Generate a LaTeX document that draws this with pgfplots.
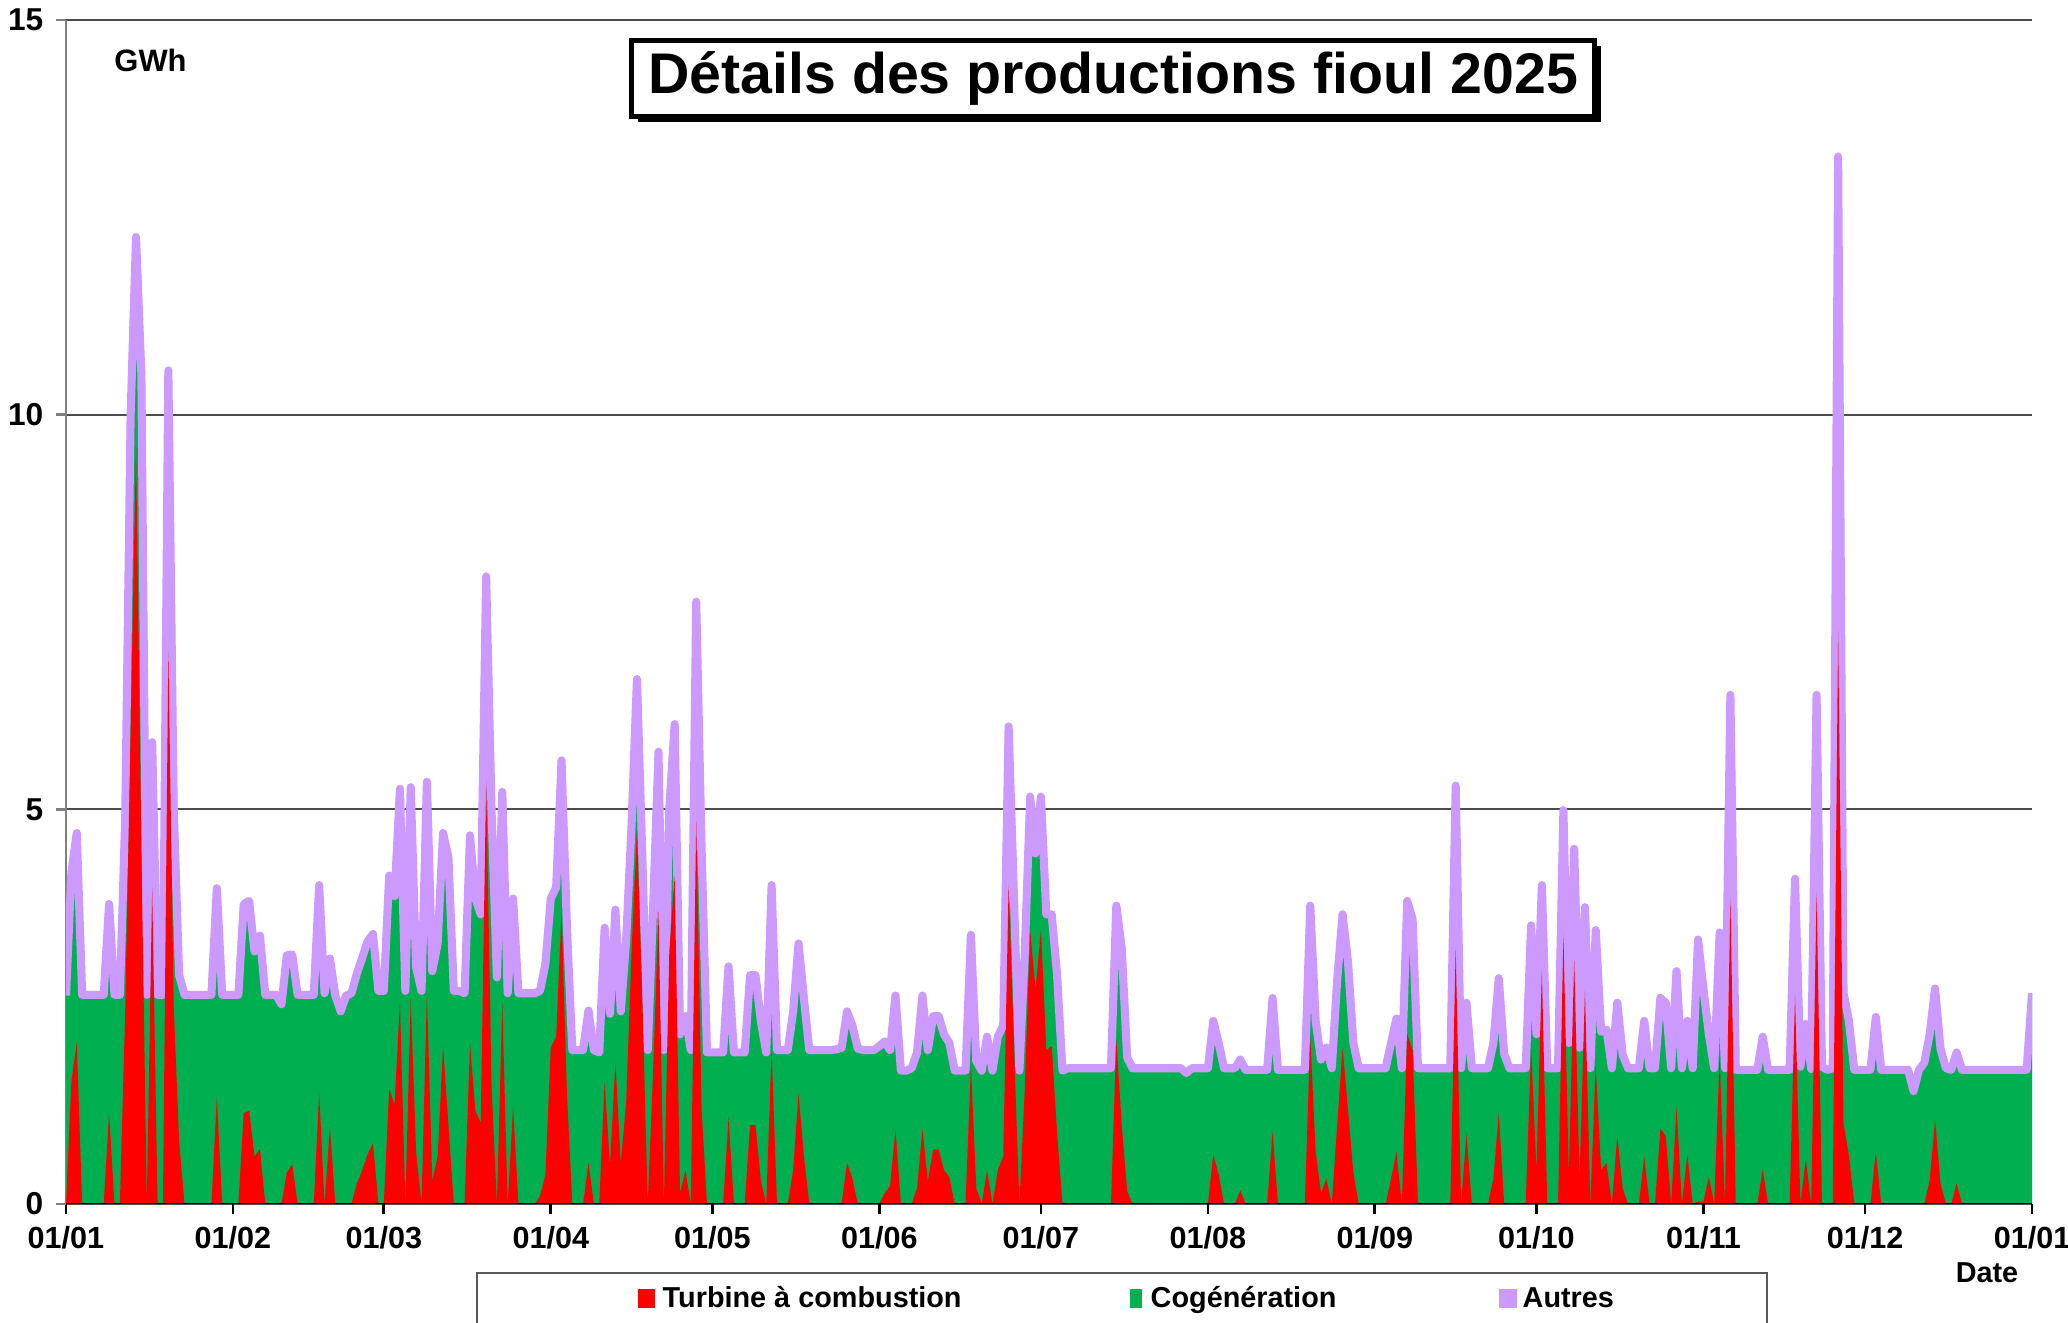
\documentclass[border=0pt]{standalone}
\usepackage{fontspec}
\setmainfont{Liberation Sans}
\usepackage{pgfplots}
\pgfplotsset{compat=1.18}
\usepackage{pgfplotstable}
\usetikzlibrary{shadows}
\definecolor{tacred}{HTML}{FF0000}
\definecolor{cogreen}{HTML}{00B050}
\definecolor{autpurple}{HTML}{CC99FF}

% d = day of 2025 (0 = 01/01), T = total (top of Autres), G = top of Cogeneration, R = Turbine a combustion
\pgfplotstableread[row sep=\\]{
d T G R\\
0 2.64 2.64 0\\ 1 4.2 4.0 1.55\\ 2 4.7 4.4 2.04\\ 3 2.65 2.65 0\\ 4 2.65 2.65 0\\ 5 2.65 2.65 0\\ 6 2.65 2.65 0\\ 7 2.65 2.65 0\\
8 3.8 3.6 1.15\\ 9 2.65 2.65 0\\ 10 2.65 2.65 0\\ 11 4.9 4.6 2.46\\ 12 10.0 9.2 6.0\\ 13 12.25 11.25 9.6\\ 14 10.5 9.5 4.5\\
15 2.65 2.65 0\\ 16 5.85 5.15 4.0\\ 17 2.65 2.65 0\\ 18 2.65 2.65 0\\ 19 10.56 7.96 7.0\\ 20 5.0 4.2 2.5\\ 21 2.9 2.9 0.8\\
22 2.65 2.65 0\\ 23 2.65 2.65 0\\ 24 2.65 2.65 0\\ 25 2.65 2.65 0\\ 26 2.65 2.65 0\\ 27 2.65 2.65 0\\ 28 4.0 3.8 1.35\\
29 2.65 2.65 0\\ 30 2.65 2.65 0\\ 31 2.65 2.65 0\\ 32 2.65 2.65 0\\ 33 3.8 3.8 1.15\\ 34 3.84 3.84 1.18\\ 35 3.2 3.2 0.6\\
36 3.4 3.4 0.7\\ 37 2.65 2.65 0\\ 38 2.65 2.65 0\\ 39 2.65 2.65 0\\ 40 2.53 2.53 0\\ 41 3.15 3.15 0.4\\ 42 3.16 3.16 0.5\\
43 2.65 2.65 0\\ 44 2.65 2.65 0\\ 45 2.65 2.65 0\\ 46 2.65 2.65 0\\ 47 4.04 3.84 1.4\\ 48 2.67 2.67 0\\ 49 3.11 3.11 0.97\\
50 2.64 2.64 0\\ 51 2.44 2.44 0\\ 52 2.64 2.64 0\\ 53 2.67 2.67 0\\ 54 2.92 2.92 0.26\\ 55 3.12 3.12 0.43\\ 56 3.33 3.33 0.63\\
57 3.42 3.42 0.77\\ 58 2.7 2.7 0\\ 59 2.7 2.7 0\\ 60 4.16 4.16 1.46\\ 61 3.9 3.9 1.26\\ 62 5.26 4.26 2.55\\ 63 2.7 2.7 0\\
64 5.28 4.28 2.6\\ 65 3.0 3.0 0.66\\ 66 2.7 2.7 0\\ 67 5.35 4.35 2.67\\ 68 2.95 2.95 0.3\\ 69 3.3 3.3 0.6\\ 70 4.7 4.4 2.0\\
71 4.39 4.39 1.0\\ 72 2.7 2.7 0\\ 73 2.7 2.7 0\\ 74 2.67 2.67 0\\ 75 4.67 4.37 2.04\\ 76 3.87 3.87 1.18\\ 77 3.67 3.67 1.03\\
78 7.95 6.45 5.36\\ 79 5.0 4.5 1.5\\ 80 2.87 2.87 0\\ 81 5.22 4.42 2.55\\ 82 2.67 2.67 0\\ 83 3.87 3.87 1.23\\ 84 2.67 2.67 0\\
85 2.67 2.67 0\\ 86 2.67 2.67 0\\ 87 2.67 2.67 0\\ 88 2.7 2.7 0.1\\ 89 3.04 3.04 0.37\\ 90 3.87 3.87 1.98\\ 91 4.01 4.01 2.12\\
92 5.62 4.62 3.7\\ 93 3.5 3.5 1.4\\ 94 1.95 1.95 0\\ 95 1.95 1.95 0\\ 96 1.95 1.95 0\\ 97 2.45 2.45 0.52\\ 98 1.95 1.95 0\\
99 1.92 1.92 0\\ 100 3.5 3.5 1.55\\ 101 2.41 2.41 0.49\\ 102 3.73 3.73 1.8\\ 103 2.44 2.44 0.52\\ 104 3.35 3.35 1.29\\
105 4.8 4.8 3.2\\ 106 6.65 5.55 4.73\\ 107 4.4 4.4 2.6\\ 108 1.95 1.95 0\\ 109 3.76 3.76 1.69\\ 110 5.73 4.33 3.7\\
111 1.95 1.95 0\\ 112 5.0 4.5 3.18\\ 113 6.08 5.18 4.16\\ 114 2.15 2.15 0.14\\ 115 2.38 2.38 0.43\\ 116 1.95 1.95 0\\
117 7.63 4.93 4.85\\ 118 4.5 3.7 1.2\\ 119 1.92 1.92 0\\ 120 1.92 1.92 0\\ 121 1.92 1.92 0\\ 122 1.92 1.92 0\\
123 3.01 3.01 1.09\\ 124 1.92 1.92 0\\ 125 1.92 1.92 0\\ 126 1.92 1.92 0\\ 127 2.9 2.9 1.0\\ 128 2.9 2.9 1.0\\
129 2.32 2.32 0.3\\ 130 1.92 1.92 0\\ 131 4.04 3.24 1.95\\ 132 1.95 1.95 0\\ 133 1.95 1.95 0\\ 134 1.95 1.95 0\\
135 2.44 2.44 0.43\\ 136 3.3 3.3 1.4\\ 137 2.6 2.6 0.6\\ 138 1.95 1.95 0\\ 139 1.95 1.95 0\\ 140 1.95 1.95 0\\
141 1.95 1.95 0\\ 142 1.95 1.95 0\\ 143 1.96 1.96 0\\ 144 1.98 1.98 0\\ 145 2.44 2.44 0.52\\ 146 2.26 2.26 0.32\\
147 1.97 1.97 0\\ 148 1.95 1.95 0\\ 149 1.95 1.95 0\\ 150 1.95 1.95 0\\ 151 2.0 2.0 0\\ 152 2.06 2.06 0.14\\
153 1.95 1.95 0.23\\ 154 2.64 2.64 0.95\\ 155 1.69 1.69 0\\ 156 1.69 1.69 0\\ 157 1.72 1.72 0\\ 158 1.92 1.92 0.2\\
159 2.64 2.64 0.95\\ 160 1.95 1.95 0.29\\ 161 2.38 2.38 0.69\\ 162 2.38 2.38 0.69\\ 163 2.15 2.15 0.43\\ 164 2.04 2.04 0.34\\
165 1.69 1.69 0\\ 166 1.69 1.69 0\\ 167 1.69 1.69 0\\ 168 3.41 3.11 1.75\\ 169 1.81 1.81 0.2\\ 170 1.69 1.69 0\\
171 2.12 2.12 0.43\\ 172 1.69 1.69 0\\ 173 2.12 2.12 0.43\\ 174 2.26 2.26 0.6\\ 175 6.05 4.15 4.04\\ 176 3.87 3.57 2.0\\
177 1.69 1.69 0\\ 178 3.18 3.18 1.46\\ 179 5.16 4.56 3.47\\ 180 4.44 4.44 2.72\\ 181 5.16 4.56 3.47\\ 182 3.67 3.67 1.95\\
183 3.67 3.67 2.0\\ 184 2.9 2.9 0.9\\ 185 1.69 1.69 0\\ 186 1.72 1.72 0\\ 187 1.72 1.72 0\\ 188 1.72 1.72 0\\
189 1.72 1.72 0\\ 190 1.72 1.72 0\\ 191 1.72 1.72 0\\ 192 1.72 1.72 0\\ 193 1.72 1.72 0\\ 194 1.72 1.72 0\\
195 3.78 3.28 2.09\\ 196 3.24 3.24 1.0\\ 197 1.86 1.86 0.17\\ 198 1.72 1.72 0\\ 199 1.72 1.72 0\\ 200 1.72 1.72 0\\
201 1.72 1.72 0\\ 202 1.72 1.72 0\\ 203 1.72 1.72 0\\ 204 1.72 1.72 0\\ 205 1.72 1.72 0\\ 206 1.72 1.72 0\\
207 1.72 1.72 0\\ 208 1.66 1.66 0\\ 209 1.72 1.72 0\\ 210 1.72 1.72 0\\ 211 1.72 1.72 0\\ 212 1.72 1.72 0\\
213 2.32 2.32 0.63\\ 214 2.04 2.04 0.37\\ 215 1.72 1.72 0\\ 216 1.72 1.72 0\\ 217 1.72 1.72 0\\ 218 1.83 1.83 0.17\\
219 1.7 1.7 0\\ 220 1.7 1.7 0\\ 221 1.7 1.7 0\\ 222 1.7 1.7 0\\ 223 1.7 1.7 0\\ 224 2.61 2.61 0.92\\
225 1.7 1.7 0\\ 226 1.7 1.7 0\\ 227 1.7 1.7 0\\ 228 1.7 1.7 0\\ 229 1.7 1.7 0\\ 230 1.7 1.7 0\\
231 3.78 2.88 2.12\\ 232 2.32 2.32 0.66\\ 233 1.83 1.83 0.14\\ 234 1.98 1.98 0.32\\ 235 1.72 1.72 0\\ 236 2.84 2.84 1.0\\
237 3.67 3.27 1.98\\ 238 3.07 3.07 1.2\\ 239 2.04 2.04 0.4\\ 240 1.72 1.72 0\\ 241 1.72 1.72 0\\ 242 1.72 1.72 0\\
243 1.72 1.72 0\\ 244 1.72 1.72 0\\ 245 1.72 1.72 0\\ 246 2.04 2.04 0.32\\ 247 2.35 2.35 0.66\\ 248 1.72 1.72 0\\
249 3.84 3.54 2.15\\ 250 3.61 3.61 1.95\\ 251 1.72 1.72 0\\ 252 1.72 1.72 0\\ 253 1.72 1.72 0\\ 254 1.72 1.72 0\\
255 1.72 1.72 0\\ 256 1.72 1.72 0\\ 257 1.72 1.72 0\\ 258 5.3 3.5 3.24\\ 259 1.72 1.72 0\\ 260 2.55 2.55 0.89\\
261 1.72 1.72 0\\ 262 1.72 1.72 0\\ 263 1.72 1.72 0\\ 264 1.72 1.72 0\\ 265 2.04 2.04 0.32\\ 266 2.86 2.86 1.15\\
267 1.9 1.9 0\\ 268 1.72 1.72 0\\ 269 1.72 1.72 0\\ 270 1.72 1.72 0\\ 271 1.72 1.72 0\\ 272 3.53 2.68 1.98\\
273 2.15 2.15 0.43\\ 274 4.04 3.04 2.95\\ 275 1.72 1.72 0\\ 276 1.72 1.72 0\\ 277 1.72 1.72 0\\ 278 4.99 3.49 3.41\\
279 2.04 2.04 0.37\\ 280 4.5 3.2 3.1\\ 281 1.98 1.98 0.32\\ 282 3.76 2.76 2.7\\ 283 1.72 1.72 0\\ 284 3.47 2.62 1.75\\
285 2.18 2.18 0.43\\ 286 2.21 2.21 0.52\\ 287 1.72 1.72 0\\ 288 2.55 2.55 0.86\\ 289 1.89 1.89 0.2\\ 290 1.72 1.72 0\\
291 1.72 1.72 0\\ 292 1.72 1.72 0\\ 293 2.32 2.32 0.6\\ 294 1.72 1.72 0\\ 295 1.72 1.72 0\\ 296 2.61 2.61 0.95\\
297 2.55 2.55 0.86\\ 298 1.72 1.72 0\\ 299 2.95 2.95 1.23\\ 300 1.72 1.72 0\\ 301 2.32 2.32 0.63\\ 302 1.72 1.72 0\\
303 3.35 3.35 0.03\\ 304 2.72 2.72 0.03\\ 305 2.15 2.15 0.34\\ 306 1.72 1.72 0\\ 307 3.44 3.44 1.86\\ 308 1.72 1.72 0\\
309 6.45 3.95 3.87\\ 310 1.7 1.7 0\\ 311 1.7 1.7 0\\ 312 1.7 1.7 0\\ 313 1.7 1.7 0\\ 314 1.7 1.7 0\\
315 2.12 2.12 0.44\\ 316 1.7 1.7 0\\ 317 1.7 1.7 0\\ 318 1.7 1.7 0\\ 319 1.7 1.7 0\\ 320 1.7 1.7 0\\
321 4.12 2.72 2.64\\ 322 1.74 1.74 0\\ 323 2.28 2.28 0.57\\ 324 1.71 1.71 0\\ 325 6.45 4.05 3.94\\ 326 1.74 1.74 0\\
327 1.7 1.7 0\\ 328 1.72 1.72 0\\ 329 13.27 7.37 7.26\\ 330 2.68 2.68 1.02\\ 331 2.32 2.32 0.62\\ 332 1.7 1.7 0\\
333 1.7 1.7 0\\ 334 1.7 1.7 0\\ 335 1.7 1.7 0\\ 336 2.37 2.37 0.66\\ 337 1.7 1.7 0\\ 338 1.7 1.7 0\\
339 1.7 1.7 0\\ 340 1.7 1.7 0\\ 341 1.7 1.7 0\\ 342 1.7 1.7 0\\ 343 1.43 1.43 0\\ 344 1.7 1.7 0\\
345 1.79 1.79 0\\ 346 2.15 2.15 0.3\\ 347 2.73 2.73 1.07\\ 348 1.97 1.97 0.26\\ 349 1.72 1.72 0\\ 350 1.7 1.7 0\\
351 1.92 1.92 0.26\\ 352 1.7 1.7 0\\ 353 1.7 1.7 0\\ 354 1.7 1.7 0\\ 355 1.7 1.7 0\\ 356 1.7 1.7 0\\
357 1.7 1.7 0\\ 358 1.7 1.7 0\\ 359 1.7 1.7 0\\ 360 1.7 1.7 0\\ 361 1.7 1.7 0\\ 362 1.7 1.7 0\\
363 1.7 1.7 0\\ 364 1.7 1.7 0\\ 365 2.67 2.67 0\\
}\data

\begin{document}
\begin{tikzpicture}[font=\bfseries]
\begin{axis}[
  at={(0,0)}, anchor=south west,
  scale only axis, width=196.6mm, height=118.4mm,
  xmin=0, xmax=365, ymin=0, ymax=15,
  axis x line*=bottom, axis y line*=left,
  x axis line style={draw=none},
  y axis line style={gray, line width=0.8pt},
  xtick={0,31,59,90,120,151,181,212,243,273,304,334,365},
  xticklabels={01/01,01/02,01/03,01/04,01/05,01/06,01/07,01/08,01/09,01/10,01/11,01/12,01/01},
  ytick={0,5,10,15},
  tick align=outside,
  major tick length=1mm,
  xtick style={black, line width=0.8pt},
  ytick style={gray, line width=0.8pt},
  ymajorgrids, grid style={gray!60!black, line width=0.5pt},
  /pgf/number format/assume math mode=true,
  xticklabel style={font=\bfseries\fontsize{8.7}{10}\selectfont, anchor=center, inner sep=0pt, yshift=-2.4mm},
  yticklabel style={font=\bfseries\fontsize{9}{10}\selectfont, anchor=east, inner sep=0pt, xshift=-1.2mm},
]
\addplot[draw=none, fill=autpurple] table[x=d, y=T]{\data} \closedcycle;
\addplot[draw=none, fill=cogreen] table[x=d, y=G]{\data} \closedcycle;
\addplot[autpurple, line width=2.3pt, line join=round] table[x=d, y=T]{\data};
\addplot[draw=none, fill=tacred] table[x=d, y=R]{\data} \closedcycle;
\draw[black, line width=0.8pt] (rel axis cs:0,0) -- (rel axis cs:1,0);
\node[draw=black, line width=1.4pt, fill=white, minimum width=96.3mm, minimum height=7.6mm, inner sep=0pt,
  drop shadow={shadow xshift=0.6mm, shadow yshift=-0.6mm, opacity=1, fill=black},
  font=\bfseries\fontsize{16.3}{18}\selectfont] at (rel axis cs:0.5326,0.9506) {Détails des productions fioul 2025};
\node[font=\bfseries\fontsize{8.8}{10}\selectfont] at (rel axis cs:0.043,0.966) {GWh};
\end{axis}
% Date label
\node[font=\bfseries\fontsize{8.2}{10}\selectfont] at (192.1mm,-6.9mm) {Date};
% legend
\draw[gray!70!black, line width=0.6pt] (41.1mm,-14mm) -- (41.1mm,-6.9mm) -- (170.1mm,-6.9mm) -- (170.1mm,-14mm);
\fill[tacred] (57.2mm,-10.4mm) rectangle (58.9mm,-8.5mm);
\node[anchor=base west, inner sep=0pt, font=\bfseries\fontsize{8.2}{10}\selectfont] at (59.6mm,-10.4mm) {Turbine à combustion};
\fill[cogreen] (106.4mm,-10.4mm) rectangle (107.6mm,-8.5mm);
\node[anchor=base west, inner sep=0pt, font=\bfseries\fontsize{8.2}{10}\selectfont] at (108.4mm,-10.4mm) {Cogénération};
\fill[autpurple] (143.3mm,-10.4mm) rectangle (145.1mm,-8.5mm);
\node[anchor=base west, inner sep=0pt, font=\bfseries\fontsize{8.2}{10}\selectfont] at (145.6mm,-10.4mm) {Autres};
\pgfresetboundingbox
\path[use as bounding box] (-6.6mm,-11.9mm) rectangle (200.2mm,120.4mm);
\end{tikzpicture}
\end{document}
